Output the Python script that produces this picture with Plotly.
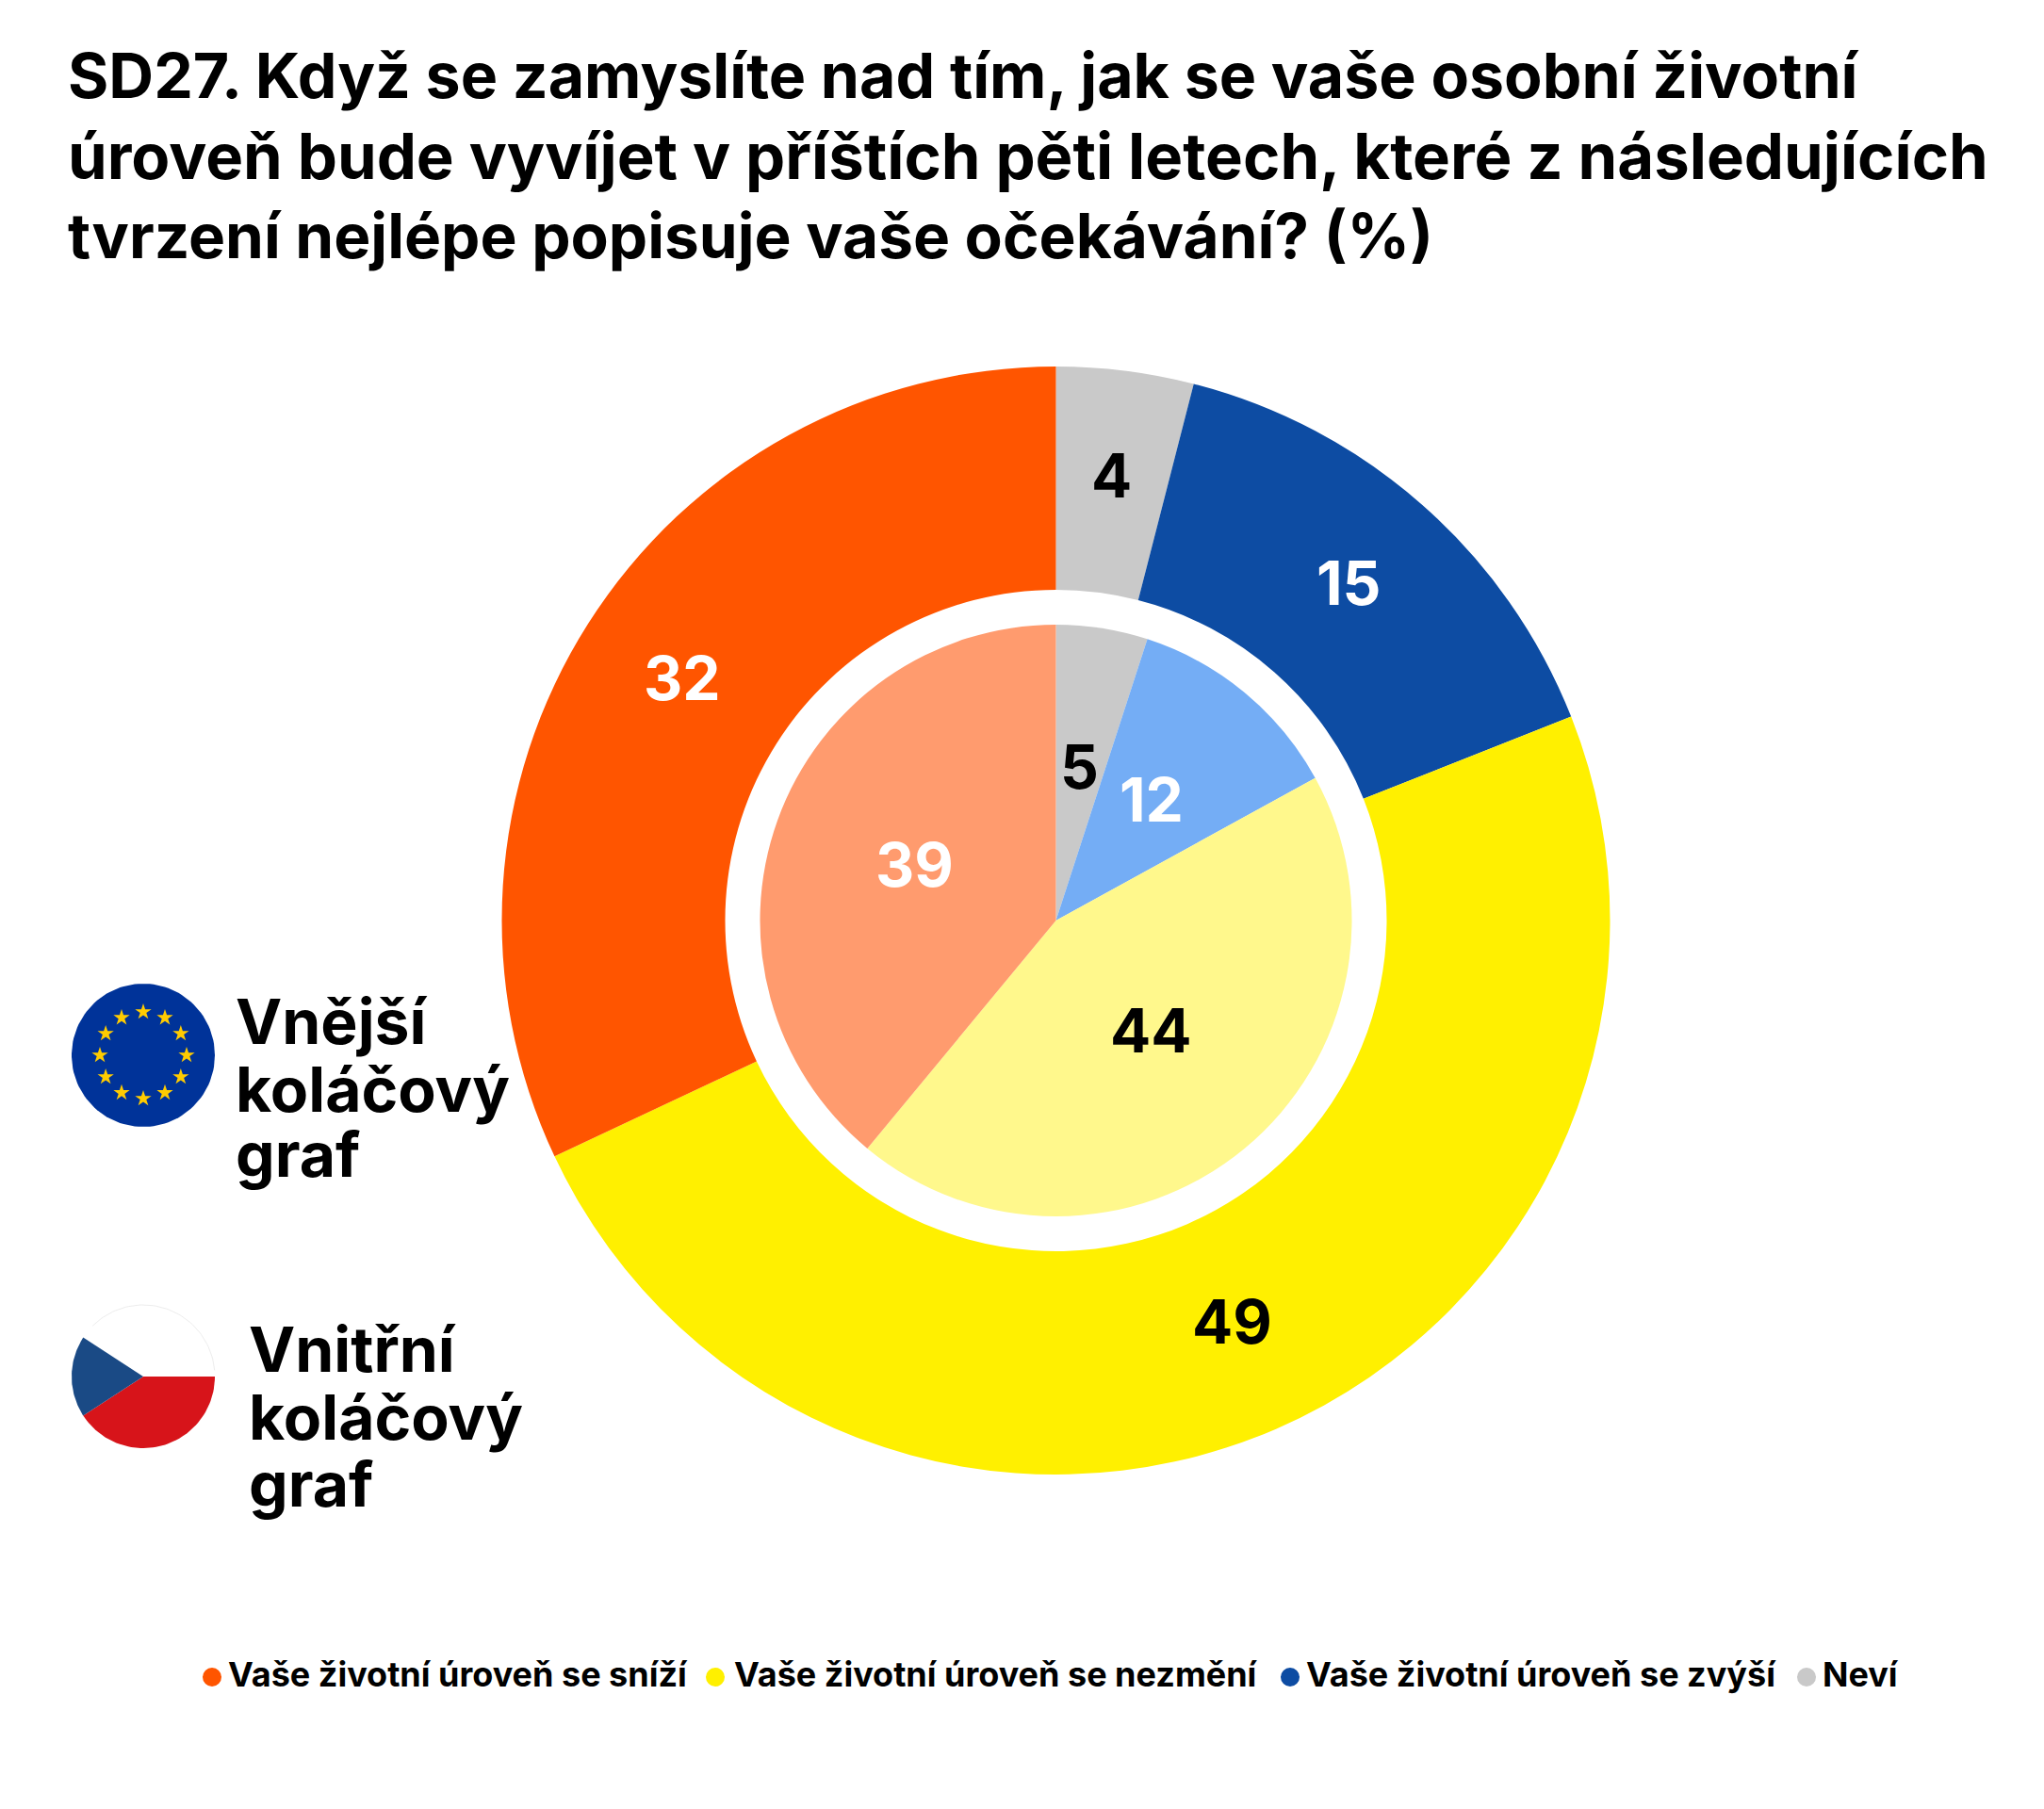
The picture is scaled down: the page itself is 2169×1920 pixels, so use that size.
import numpy as np
import plotly.graph_objects as go

W, H = 2169, 1920

# Survey shares in percent, clockwise from twelve o'clock
categories = ["Neví", "Vaše životní úroveň se zvýší", "Vaše životní úroveň se nezmění", "Vaše životní úroveň se sníží"]
eu_values = [4, 15, 49, 32]
cz_values = [5, 12, 44, 39]

eu_colors = ["#C9C9C9", "#0D4CA3", "#FFF000", "#FF5500"]
cz_colors = ["#C9C9C9", "#74ADF5", "#FFF88C", "#FF9B6E"]
text_colors = ["#000000", "#FFFFFF", "#000000", "#FFFFFF"]

title_lines = [
    "SD27. Když se zamyslíte nad tím, jak se vaše osobní životní",
    "úroveň bude vyvíjet v příštích pěti letech, které z následujících",
    "tvrzení nejlépe popisuje vaše očekávání? (%)",
]
title_sizes = [66.2, 67, 65.7]
outer_label = ["Vnější", "koláčový", "graf"]
inner_label = ["Vnitřní", "koláčový", "graf"]

legend_order = [3, 2, 1, 0]
legend_text_x = [240, 777, 1384, 1932]
legend_dot_x = [225, 759, 1369, 1917]

FONT = "Inter"
CX, CY = 1120.5, 977
R_OUTER, R_HOLE, R_INNER = 588, 351, 314
LABEL_R_OUTER, LABEL_R_INNER = 470, 159


def pie_domain(radius):
    return dict(x=[(CX - radius) / W, (CX + radius) / W],
                y=[1 - (CY + radius) / H, 1 - (CY - radius) / H])


def pie(values, colors, radius, hole):
    return go.Pie(
        labels=categories, values=values, sort=False, direction="clockwise", rotation=0,
        hole=hole, domain=pie_domain(radius), marker=dict(colors=colors, line=dict(width=0)),
        textinfo="none", showlegend=False, hoverinfo="label+value",
    )


fig = go.Figure()
fig.add_trace(pie(eu_values, eu_colors, R_OUTER, R_HOLE / R_OUTER))
fig.add_trace(pie(cz_values, cz_colors, R_INNER, 0))

# Flag badges and legend dots are laid out on a hidden axis pair that runs in page pixels
FLAG_X, EU_Y, CZ_Y, FLAG_R = 152, 1120, 1461, 76


def arc(cx, cy, r, start, end, n=60):
    t = np.radians(np.linspace(start, end, n))
    return cx + r * np.cos(t), cy + r * np.sin(t)


def polygon(xs, ys, color):
    return go.Scatter(x=list(xs), y=list(ys), mode="lines", fill="toself", fillcolor=color,
                      line=dict(width=0), hoverinfo="skip", showlegend=False)


fig.add_trace(polygon(*arc(FLAG_X, EU_Y, FLAG_R, 0, 360, 120), "#003399"))
star_angles = np.radians(np.arange(0, 360, 30))
fig.add_trace(go.Scatter(
    x=FLAG_X + 46 * np.cos(star_angles), y=EU_Y + 46 * np.sin(star_angles), mode="markers",
    marker=dict(symbol="star", size=13, color="#FFCC00", line=dict(width=0)),
    hoverinfo="skip", showlegend=False,
))

ax, ay = arc(FLAG_X, CZ_Y, FLAG_R, 0, 147)
fig.add_trace(polygon(np.r_[FLAG_X, ax], np.r_[CZ_Y, ay], "#D7141A"))
bx, by = arc(FLAG_X, CZ_Y, FLAG_R, 147, 213)
fig.add_trace(polygon(np.r_[FLAG_X, bx], np.r_[CZ_Y, by], "#1A4A85"))
gx, gy = arc(FLAG_X, CZ_Y, FLAG_R, 225, 355)
fig.add_trace(go.Scatter(x=gx, y=gy, mode="lines", line=dict(width=1, color="#EDEDED"),
                         hoverinfo="skip", showlegend=False))

fig.add_trace(go.Scatter(
    x=legend_dot_x, y=[1780] * 4, mode="markers",
    marker=dict(size=20, color=[eu_colors[i] for i in legend_order], line=dict(width=0)),
    hoverinfo="skip", showlegend=False,
))

annotations = []


def text(x, y, s, size, anchor="left", color="#000000"):
    annotations.append(dict(
        x=x, y=y, xref="x", yref="y", text=s, showarrow=False, xanchor=anchor, yanchor="middle",
        font=dict(family=FONT, size=size, color=color, weight=700), align="left",
    ))


def slice_labels(values, radius):
    # Each value sits at the middle angle of its own slice
    shares = np.cumsum(values) - np.array(values) / 2
    angles = 2 * np.pi * shares / np.sum(values)
    for v, a, c in zip(values, angles, text_colors):
        text(CX + radius * np.sin(a), CY - radius * np.cos(a) - 6, str(v), 64, "center", c)


slice_labels(eu_values, LABEL_R_OUTER)
slice_labels(cz_values, LABEL_R_INNER)

for y, line, size in zip([80, 165, 250], title_lines, title_sizes):
    text(70, y, line, size)
for y, line in zip([1084, 1156, 1225], outer_label):
    text(248, y, line, 66)
for y, line in zip([1432, 1504, 1575], inner_label):
    text(262, y, line, 66)
for x, i in zip(legend_text_x, legend_order):
    text(x, 1777, categories[i], 36)

fig.update_layout(
    width=W, height=H, margin=dict(l=0, r=0, t=0, b=0), autosize=False,
    paper_bgcolor="white", plot_bgcolor="white", annotations=annotations,
    xaxis=dict(range=[0, W], visible=False, domain=[0, 1], fixedrange=True),
    yaxis=dict(range=[H, 0], visible=False, domain=[0, 1], fixedrange=True),
)
fig.write_html("out.html", config=dict(displayModeBar=False))
